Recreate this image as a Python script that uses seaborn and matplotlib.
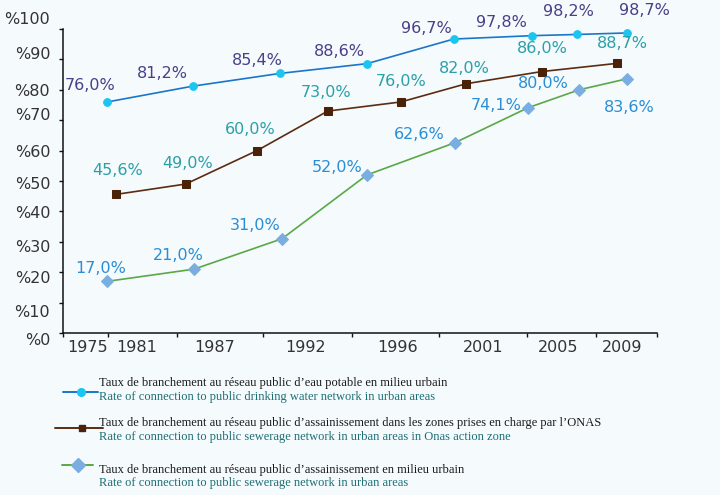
import seaborn as sns
import matplotlib.pyplot as plt
from matplotlib.lines import Line2D
from matplotlib.transforms import ScaledTranslation

# Data (x = position along the time axis, 0-100)
water_x = [7.5, 21.9, 36.6, 51.2, 65.8, 78.9, 86.5, 94.9]
water = [76.0, 81.2, 85.4, 88.6, 96.7, 97.8, 98.2, 98.7]
onas_x = [9.0, 20.7, 32.7, 44.6, 56.9, 67.9, 80.6, 93.3]
onas = [45.6, 49.0, 60.0, 73.0, 76.0, 82.0, 86.0, 88.7]
sewer_x = [7.5, 22.1, 36.9, 51.2, 66.0, 78.3, 86.9, 94.9]
sewer = [17.0, 21.0, 31.0, 52.0, 62.6, 74.1, 80.0, 83.6]

years = ["1975", "1981", "1987", "1992", "1996", "2001", "2005", "2009"]
year_pos = [4.1, 12.5, 25.6, 40.9, 56.3, 70.7, 83.3, 94.1]
bounds = [0, 7.6, 19.2, 33.7, 48.7, 63.3, 78.1, 89.7, 100]
yticks = [0, 10, 20, 30, 40, 50, 60, 70, 80, 90, 100]

legend_fr = [
    "Taux de branchement au réseau public d\u2019eau potable en milieu urbain",
    "Taux de branchement au réseau public d\u2019assainissement dans les zones prises en charge par l\u2019ONAS",
    "Taux de branchement au réseau public d\u2019assainissement en milieu urbain",
]
legend_en = [
    "Rate of connection to public drinking water network in urban areas",
    "Rate of connection to public sewerage network in urban areas in Onas action zone",
    "Rate of connection to public sewerage network in urban areas",
]

# label offsets in pixels
water_off = [(-17, 16), (-30, 13), (-23, 13), (-28, 12), (-27, 11), (-30, 13), (-8, 23), (18, 22)]
onas_off = [(1, 24), (2, 21), (-7, 21), (-2, 19), (0, 20), (-2, 15), (1, 23), (5, 20)]
sewer_off = [(-7, 13), (-16, 14), (-27, 13), (-30, 7), (-36, 8), (-32, 2), (-36, 6), (3, -29)]

bg = "#f5fafd"
sns.set_theme(style="white")
plt.rcParams["font.family"] = ["DejaVu Sans"]

fig = plt.figure(figsize=(7.2, 4.95), dpi=100, facecolor=bg)
ax = fig.add_axes([62.7 / 720, 1 - 333 / 495, (657 - 62.7) / 720, (333 - 29) / 495])
ax.set_facecolor(bg)

series = [
    (water_x, water, "#1a76c8", "o", "#1cc4f0", 5.5, "#4a3f88", water_off),
    (onas_x, onas, "#5a2c10", "s", "#4a220a", 6, "#2aa0a8", onas_off),
    (sewer_x, sewer, "#5aa846", "D", "#7aaee0", 6, "#2a8ed4", sewer_off),
]

for xs, ys, lc, mk, mc, ms, tc, offs in series:
    sns.lineplot(x=xs, y=ys, ax=ax, color=lc, linewidth=1.2, marker=mk,
                 markersize=ms, markerfacecolor=mc, markeredgecolor=mc,
                 clip_on=False, zorder=3)
    for x, y, (dx, dy) in zip(xs, ys, offs):
        ax.annotate(f"{y:.1f}%".replace(".", ","), (x, y), xytext=(dx, dy),
                    textcoords="offset pixels", ha="center", va="center",
                    fontsize=11.5, color=tc, annotation_clip=False)

ax.set_xlim(0, 100)
ax.set_ylim(0, 100)
sns.despine(ax=ax)
for s in ["left", "bottom"]:
    ax.spines[s].set_color("#111111")
    ax.spines[s].set_linewidth(1.1)

ax.set_xticks(bounds)
ax.set_xticklabels([])
ax.set_xticks(year_pos, years, minor=True)
ax.tick_params(axis="x", which="major", direction="out", length=3, width=1, color="#111111")
ax.tick_params(axis="x", which="minor", length=0, pad=5, labelsize=11.5, labelcolor="#333333")

ax.set_yticks(yticks, [f"%{v}" for v in yticks])
ax.tick_params(axis="y", direction="out", length=3, width=1, color="#111111",
               pad=6, labelsize=11.5, labelcolor="#333333")
ax.tick_params(left=True, bottom=True, which="major")

# the original tick labels sit a little off their ticks
ylab_shift = [-6, -8, -5, -4, -1, -2, 0, 6, 0, 6, 11]
for lab, sh in zip(ax.get_yticklabels(), ylab_shift):
    lab.set_transform(lab.get_transform() + ScaledTranslation(0, sh / 100, fig.dpi_scale_trans))


# legend drawn by hand below the chart
def fx(px):
    return px / 720


def fy(py):
    return 1 - py / 495


handles = [
    (63, 98, 81, 392, "#1a76c8", "o", "#1cc4f0", 5.5),
    (55, 103, 82, 428, "#5a2c10", "s", "#4a220a", 4.8),
    (62, 93, 78, 465, "#5aa846", "D", "#7aaee0", 7),
]
text_y = [(383, 397), (423, 437), (470, 483)]
for (x0, x1, xm, yl, lc, mk, mc, ms), (y1, y2), fr, en in zip(handles, text_y, legend_fr, legend_en):
    fig.add_artist(Line2D([fx(x0), fx(x1)], [fy(yl), fy(yl)], transform=fig.transFigure,
                          color=lc, linewidth=1.4))
    fig.add_artist(Line2D([fx(xm)], [fy(yl)], transform=fig.transFigure, marker=mk,
                          markersize=ms, markerfacecolor=mc, markeredgecolor=mc, linestyle="none"))
    fig.text(fx(99), fy(y1), fr, ha="left", va="center", fontsize=9,
             family="Liberation Serif", color="#1a1a1a")
    fig.text(fx(99), fy(y2), en, ha="left", va="center", fontsize=9,
             family="Liberation Serif", color="#1d6f74")

fig.savefig("out.png", dpi=100, facecolor=bg)
